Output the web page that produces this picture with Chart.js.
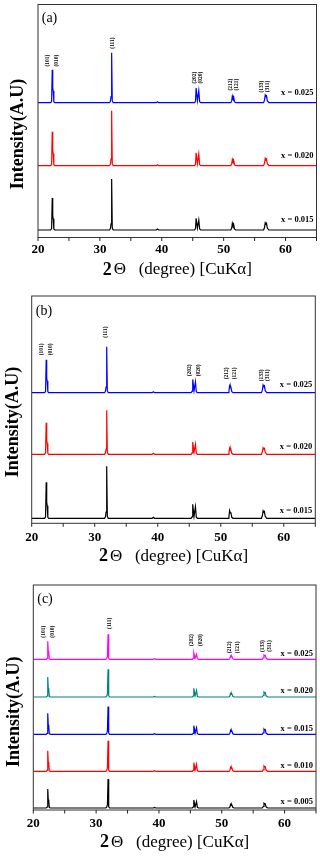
<!DOCTYPE html>
<html><head><meta charset="utf-8">
<script src="https://cdn.jsdelivr.net/npm/chart.js@4.4.1/dist/chart.umd.min.js"></script>
<style>
html,body{margin:0;padding:0;background:#fff;}
body{width:320px;height:856px;position:relative;overflow:hidden;}
.p{position:absolute;left:0;width:320px;}
</style></head><body>
<div class="p" style="top:0;height:290px"><canvas id="ca"></canvas></div>
<div class="p" style="top:290px;height:280px"><canvas id="cb"></canvas></div>
<div class="p" style="top:570px;height:286px"><canvas id="cc"></canvas></div>
<script>
// ---- data ----
const twoTheta = [20, 22.05, 22.2, 22.3, 22.38, 22.46, 22.56, 22.7, 31.55, 31.7, 31.8, 31.9, 32.0, 32.15, 39.1, 39.3, 39.5, 45.3, 45.45, 45.55, 45.76, 45.98, 46.12, 46.3, 51.15, 51.3, 51.4, 51.5, 51.6, 51.75, 51.95, 56.45, 56.6, 56.72, 56.82, 56.92, 57.05, 57.3, 65];
const xTickValues = [20, 30, 40, 50, 60];
const xMinorTicks = [25, 35, 45, 55, 65];

// panel (a)
const aLabels = ['x = 0.025', 'x = 0.020', 'x = 0.015'];
const aOffsets = [134.8, 71.8, 7.5];
const a025 = [0, 0,1.5,33,14.9,11.6,1,0, 0,1.5,6,50,2,0, 0,1,0, 0,1.5,14.7,2,12,1,0, 0,2,6.7,4.7,6,1,0, 0,2.5,7.7,6.5,7,2,0, 0];
const a020 = [0, 0,1.5,34,15.3,11.9,1,0, 0,1.5,6.6,55,2,0, 0,1,0, 0,1.5,13,2,11.7,1,0, 0,2,6.4,4.5,5.8,1,0, 0,2.5,7.4,6.3,6.8,2,0, 0];
const a015 = [0, 0,1.5,32,14.4,11.2,1,0, 0,1.5,6.1,51,2,0, 0,1,0, 0,1.5,11.7,2,10,1,0, 0,2,6.7,4.7,6,1,0, 0,2.5,7.3,6.2,6.8,2,0, 0];

// panel (b)
const bLabels = ['x = 0.025', 'x = 0.020', 'x = 0.015'];
const bOffsets = [130.6, 69, 5];
const b025 = [0, 0,1.5,33,14.9,11.6,1,0, 0,1.5,5.5,46,2,0, 0,1,0, 0,1.5,13.3,2,11,1,0, 0,2,6.7,4.7,5.5,1,0, 0,2.5,7.7,6.5,7,2,0, 0];
const b020 = [0, 0,1.5,31.6,14.2,11.1,1,0, 0,1.5,5.3,44,2,0, 0,1,0, 0,1.5,12.3,2,10,1,0, 0,2,6,4.2,5,1,0, 0,2.5,6.6,5.6,6,2,0, 0];
const b015 = [0, 0,1.5,36,16.2,12.6,1,0, 0,1.5,6.2,52,2,0, 0,1,0, 0,1.5,14,2,11.6,1,0, 0,2,7.6,5.3,6,1,0, 0,2.5,7.6,6.5,6.8,2,0, 0];

// panel (c)
const cLabels = ['x = 0.025', 'x = 0.020', 'x = 0.015', 'x = 0.010', 'x = 0.005'];
const cOffsets = [150.7, 113, 75.7, 38.7, 2];
const c025 = [0, 0,1,18,8.1,6.3,0.6,0, 0,1,3,25,1.2,0, 0,0.6,0, 0,1,6.6,1.2,5,0.6,0, 0,1,3.3,2.3,3,0.6,0, 0,1.5,4.3,3.7,4,1.2,0, 0];
const c020 = [0, 0,1,20,9,7,0.6,0, 0,1,3.3,27.7,1.2,0, 0,0.6,0, 0,1,8.7,1.2,6.5,0.6,0, 0,1,3.7,2.6,3.2,0.6,0, 0,1.5,5,4.3,4.5,1.2,0, 0];
const c015 = [0, 0,1,21,9.5,7.4,0.6,0, 0,1,3.3,27.7,1.2,0, 0,0.6,0, 0,1,8.6,1.2,6.5,0.6,0, 0,1,4,2.8,3.4,0.6,0, 0,1.5,5.3,4.5,4.8,1.2,0, 0];
const c010 = [0, 0,1,20.6,9.3,7.2,0.6,0, 0,1,3.7,30.6,1.2,0, 0,0.6,0, 0,1,8.6,1.2,7,0.6,0, 0,1,4,2.8,3.4,0.6,0, 0,1.5,5.3,4.5,4.8,1.2,0, 0];
const c005 = [0, 0,1,19,8.6,6.7,0.6,0, 0,1,3.5,29,1.2,0, 0,0.6,0, 0,1,8,1.2,6.5,0.6,0, 0,1,3.7,2.6,3.2,0.6,0, 0,1.5,4.7,4,4.2,1.2,0, 0];

const millerText = ['(101)', '(010)', '(111)', '(202)', '(020)', '(212)', '(121)', '(133)', '(311)'];
// ---- layout / styles ----
const SERIF = '"Liberation Serif","Times New Roman",serif';
const panels = [
  { id:'ca', letter:'(a)', H:290, top:4.5, bottom:237.5, left:38, right:316.5, ymax:233, tickPad:4.7,
    series:[a025,a020,a015], offsets:aOffsets, labels:aLabels, colors:['#0000ff','#ff0000','#000000'],
    lift:8, letterPos:[49.5,18], yTitle:[18,134], xTitleY:270,
    miller:[[21.62,177],[23.04,177],[31.97,194.5],[45.3,160],[46.34,160],[51.12,153],[52.09,153],[56.13,151],[57.1,151]] },
  { id:'cb', letter:'(b)', H:280, top:6, bottom:233.3, left:31.7, right:315.3, ymax:227.3, tickPad:7,
    series:[b025,b020,b015], offsets:bOffsets, labels:bLabels, colors:['#0000ff','#ff0000','#000000'],
    lift:5.5, letterPos:[44,21], yTitle:[13,132], xTitleY:266.7,
    miller:[[21.58,174],[23.01,174],[31.78,191.3],[44.98,153],[46.4,153],[50.9,150],[52.2,150],[56.55,148],[57.5,148]] },
  { id:'cc', letter:'(c)', H:286, top:15, bottom:240, left:33.3, right:316, ymax:225, tickPad:6.2,
    series:[c025,c020,c015,c010,c005], offsets:cOffsets, labels:cLabels, colors:['#ff00ff','#008080','#0000ff','#ff0000','#000000'],
    lift:3.7, letterPos:[45,29], yTitle:[14,141.7], xTitleY:272.5,
    miller:[[21.6,178.3],[23.03,178.3],[32.12,186.7],[45.26,170],[46.7,170],[51.26,162.7],[52.44,162.7],[56.43,164],[57.64,164]] }
];

function makePanel(P) {
  const deco = {
    id:'deco',
    afterDraw(chart) {
      const {ctx, chartArea:a, scales:{x,y}} = chart;
      ctx.save();
      ctx.strokeStyle = '#333'; ctx.lineWidth = 1;
      ctx.strokeRect(a.left, a.top, a.right - a.left, a.bottom - a.top);
      ctx.strokeStyle = '#222';
      ctx.beginPath();
      xTickValues.concat(xMinorTicks).forEach(v => {
        const px = x.getPixelForValue(v);
        ctx.moveTo(px, a.bottom); ctx.lineTo(px, a.bottom + 3.5);
      });
      ctx.stroke();
      // series labels
      ctx.fillStyle = '#000';
      ctx.font = 'bold 8.5px ' + SERIF;
      ctx.textAlign = 'right'; ctx.textBaseline = 'alphabetic';
      P.labels.forEach((t, i) => {
        ctx.fillText(t, a.right - 3, y.getPixelForValue(P.offsets[i]) - P.lift);
      });
      // miller indices
      ctx.font = 'bold 5.5px ' + SERIF;
      ctx.textAlign = 'center'; ctx.textBaseline = 'middle';
      P.miller.forEach((m, i) => {
        ctx.save();
        ctx.translate(x.getPixelForValue(m[0]), y.getPixelForValue(m[1]));
        ctx.rotate(-Math.PI / 2);
        ctx.fillText(millerText[i], 0, 0);
        ctx.restore();
      });
      // panel letter
      ctx.font = '14px ' + SERIF;
      ctx.fillText(P.letter, P.letterPos[0], P.letterPos[1]);
      // y title
      ctx.save();
      ctx.font = 'bold 18px ' + SERIF;
      ctx.translate(P.yTitle[0], P.yTitle[1]);
      ctx.rotate(-Math.PI / 2);
      ctx.fillText('Intensity(A.U)', 0, 0);
      ctx.restore();
      // x title (mixed weight)
      const p1 = '2', p2 = '\u0398   (degree) [CuK\u03b1]';
      ctx.font = 'bold 18px ' + SERIF; const w1 = ctx.measureText(p1).width;
      ctx.font = '17px ' + SERIF; const w2 = ctx.measureText(p2).width;
      const cx = (a.left + a.right) / 2, sx = cx - (w1 + w2 + 2) / 2;
      ctx.textAlign = 'left';
      ctx.font = 'bold 18px ' + SERIF; ctx.fillText(p1, sx, P.xTitleY);
      ctx.font = '17px ' + SERIF; ctx.fillText(p2, sx + w1 + 2, P.xTitleY);
      ctx.restore();
    }
  };
  return new Chart(document.getElementById(P.id), {
    type:'line',
    data:{ datasets: P.series.map((vals, i) => ({
      label: P.labels[i],
      data: twoTheta.map((t, k) => ({x:t, y: P.offsets[i] + vals[k]})),
      borderColor: P.colors[i], borderWidth: 1.2, pointRadius: 0, tension: 0, fill: false
    })) },
    options:{
      responsive:true, maintainAspectRatio:false, animation:false,
      layout:{ padding:{ left:0, top:P.top, right:320 - P.right, bottom:0 } },
      plugins:{ legend:{display:false}, tooltip:{enabled:false} },
      scales:{
        x:{ type:'linear', min:20, max:65,
            afterBuildTicks: s => { s.ticks = xTickValues.map(v => ({value:v})); },
            afterFit: s => { s.height = P.H - P.bottom; },
            grid:{ display:false, drawTicks:false }, border:{ display:false },
            ticks:{ padding:P.tickPad, color:'#000', font:{ family:SERIF, size:13, weight:'bold' }, maxRotation:0 } },
        y:{ type:'linear', min:0, max:P.ymax,
            afterFit: s => { s.width = P.left; },
            grid:{ display:false, drawTicks:false }, border:{ display:false },
            ticks:{ display:false } }
      }
    },
    plugins:[deco]
  });
}
panels.forEach(makePanel);
</script>
</body></html>
